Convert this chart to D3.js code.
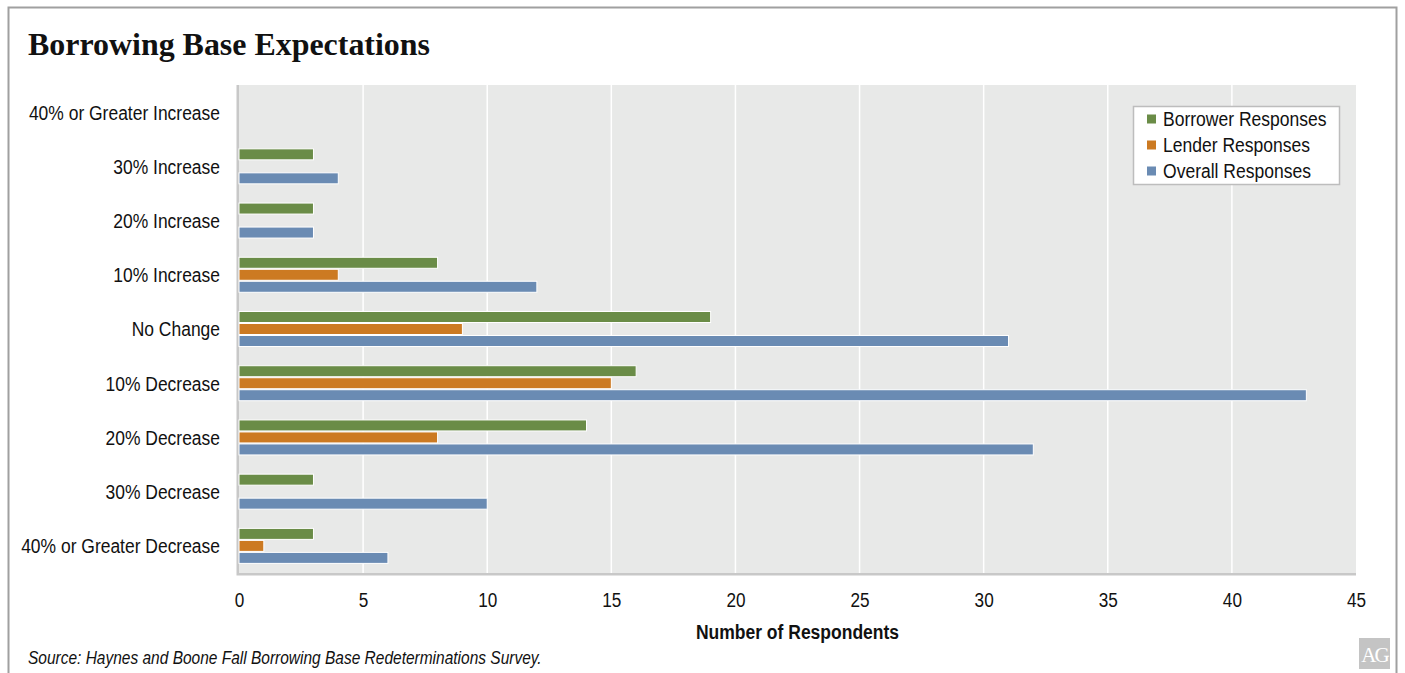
<!DOCTYPE html>
<html>
<head>
<meta charset="utf-8">
<script src="https://cdn.jsdelivr.net/npm/d3@7"></script>
<style>
  html, body { margin: 0; padding: 0; background: #fff; }
  svg { display: block; }
</style>
</head>
<body>
<svg id="chart" width="1405" height="673"></svg>
<script>
// Survey answers about expected borrowing base changes
const categories = [
  "40% or Greater Increase",
  "30% Increase",
  "20% Increase",
  "10% Increase",
  "No Change",
  "10% Decrease",
  "20% Decrease",
  "30% Decrease",
  "40% or Greater Decrease"
];
const seriesNames = ["Borrower Responses", "Lender Responses", "Overall Responses"];
const borrower = [0, 3, 3, 8, 19, 16, 14, 3, 3];
const lender   = [0, 0, 0, 4, 9, 15, 8, 0, 1];
const overall  = [0, 4, 3, 12, 31, 43, 32, 10, 6];
const xTicks = [0, 5, 10, 15, 20, 25, 30, 35, 40, 45];
const seriesColors = ["#6a8c47", "#cc7a22", "#6a8bb3"];

const seriesValues = [borrower, lender, overall];
const rows = categories.map((c, i) => ({
  category: c,
  values: seriesNames.map((s, k) => ({ series: s, value: seriesValues[k][i] }))
}));

const svg = d3.select("#chart");
const labelFont = "'Liberation Sans', Arial, sans-serif";

// squeeze a text horizontally to imitate a narrow sans face
function narrow(sel, factor) {
  sel.each(function () {
    const w = this.getComputedTextLength();
    d3.select(this).attr("textLength", w * factor).attr("lengthAdjust", "spacingAndGlyphs");
  });
}

// outer frame
svg.append("rect")
  .attr("x", 8.5).attr("y", 7.5)
  .attr("width", 1388).attr("height", 680)
  .attr("fill", "#fff").attr("stroke", "#a0a0a0").attr("stroke-width", 2);

svg.append("text")
  .attr("x", 28).attr("y", 55)
  .attr("font-family", "'Liberation Serif', 'Times New Roman', serif")
  .attr("font-weight", "bold").attr("font-size", 32)
  .attr("fill", "#111")
  .attr("textLength", 402).attr("lengthAdjust", "spacingAndGlyphs")
  .text("Borrowing Base Expectations");

const plot = { left: 239, right: 1356, top: 85, bottom: 573 };

const x = d3.scaleLinear().domain([0, 45]).range([plot.left, plot.right]);
const y = d3.scaleBand().domain(categories).range([plot.top, plot.bottom]).paddingInner(0).paddingOuter(0);
const ySub = d3.scaleBand().domain(seriesNames).range([y.bandwidth() / 2 - 18, y.bandwidth() / 2 + 18]).padding(0);
const color = d3.scaleOrdinal().domain(seriesNames).range(seriesColors);

// plot background with soft shadow on left/bottom
svg.append("rect")
  .attr("x", plot.left - 2.5).attr("y", plot.top)
  .attr("width", plot.right - plot.left + 2.5).attr("height", plot.bottom - plot.top + 2.5)
  .attr("fill", "#c8c8c8");
svg.append("rect")
  .attr("x", plot.left).attr("y", plot.top)
  .attr("width", plot.right - plot.left).attr("height", plot.bottom - plot.top)
  .attr("fill", "#e8e9e8");

// vertical gridlines
svg.append("g").selectAll("line")
  .data(xTicks.filter(t => t > 0 && t < 45))
  .join("line")
  .attr("x1", d => x(d)).attr("x2", d => x(d))
  .attr("y1", plot.top).attr("y2", plot.bottom)
  .attr("stroke", "#fff").attr("stroke-width", 1.5);

// bars
const groups = svg.append("g").selectAll("g")
  .data(rows)
  .join("g")
  .attr("transform", d => `translate(0,${y(d.category)})`);

groups.selectAll("rect")
  .data(d => d.values.filter(v => v.value > 0))
  .join("rect")
  .attr("x", x(0))
  .attr("y", d => ySub(d.series) + 0.5)
  .attr("width", d => x(d.value) - x(0))
  .attr("height", ySub.bandwidth() - 1)
  .attr("fill", d => color(d.series))
  .attr("stroke", "#fff").attr("stroke-width", 1);

// category axis
const yAxis = svg.append("g")
  .attr("transform", `translate(${plot.left - 2},0)`)
  .call(d3.axisLeft(y).tickSize(0).tickPadding(17));
yAxis.select(".domain").remove();
yAxis.selectAll("text")
  .attr("font-family", labelFont).attr("font-size", 19.5).attr("fill", "#111")
  .attr("dy", "0.38em")
  .call(narrow, 0.895);

// value axis
const xAxis = svg.append("g")
  .attr("transform", `translate(0,${plot.bottom})`)
  .call(d3.axisBottom(x).tickValues(xTicks).tickSize(0).tickPadding(20));
xAxis.select(".domain").remove();
xAxis.selectAll("text")
  .attr("font-family", labelFont).attr("font-size", 19.5).attr("fill", "#111")
  .call(narrow, 0.88);

svg.append("text")
  .attr("x", (plot.left + plot.right) / 2).attr("y", 639)
  .attr("text-anchor", "middle")
  .attr("font-family", labelFont).attr("font-weight", "bold").attr("font-size", 20)
  .attr("fill", "#111")
  .text("Number of Respondents")
  .call(narrow, 0.875);

// legend
const legend = svg.append("g").attr("transform", "translate(1133,106)");
legend.append("rect")
  .attr("x", 0.5).attr("y", 0.5).attr("width", 206).attr("height", 78)
  .attr("fill", "#fff").attr("stroke", "#bdbdbd").attr("stroke-width", 1.5);
seriesNames.forEach((s, i) => {
  const g = legend.append("g").attr("transform", `translate(14,${13 + i * 26})`);
  g.append("rect").attr("x", 0).attr("y", -4.5).attr("width", 9).attr("height", 9).attr("fill", color(s));
  g.append("text").attr("x", 16).attr("y", 0).attr("dy", "0.35em")
    .attr("font-family", labelFont).attr("font-size", 20).attr("fill", "#111")
    .text(s)
    .call(narrow, 0.876);
});

svg.append("text")
  .attr("x", 28).attr("y", 664)
  .attr("font-family", labelFont).attr("font-style", "italic").attr("font-size", 17.5)
  .attr("fill", "#111")
  .text("Source: Haynes and Boone Fall Borrowing Base Redeterminations Survey.")
  .call(narrow, 0.885);

// AG mark
const mark = svg.append("g").attr("transform", "translate(1359,638)");
mark.append("rect").attr("width", 31).attr("height", 31).attr("fill", "#c4c4c4");
mark.append("text").attr("x", 15.5).attr("y", 24)
  .attr("text-anchor", "middle")
  .attr("font-family", "'Liberation Serif', serif").attr("font-size", 21)
  .attr("fill", "#fff").attr("letter-spacing", -2)
  .text("AG");
</script>
</body>
</html>
